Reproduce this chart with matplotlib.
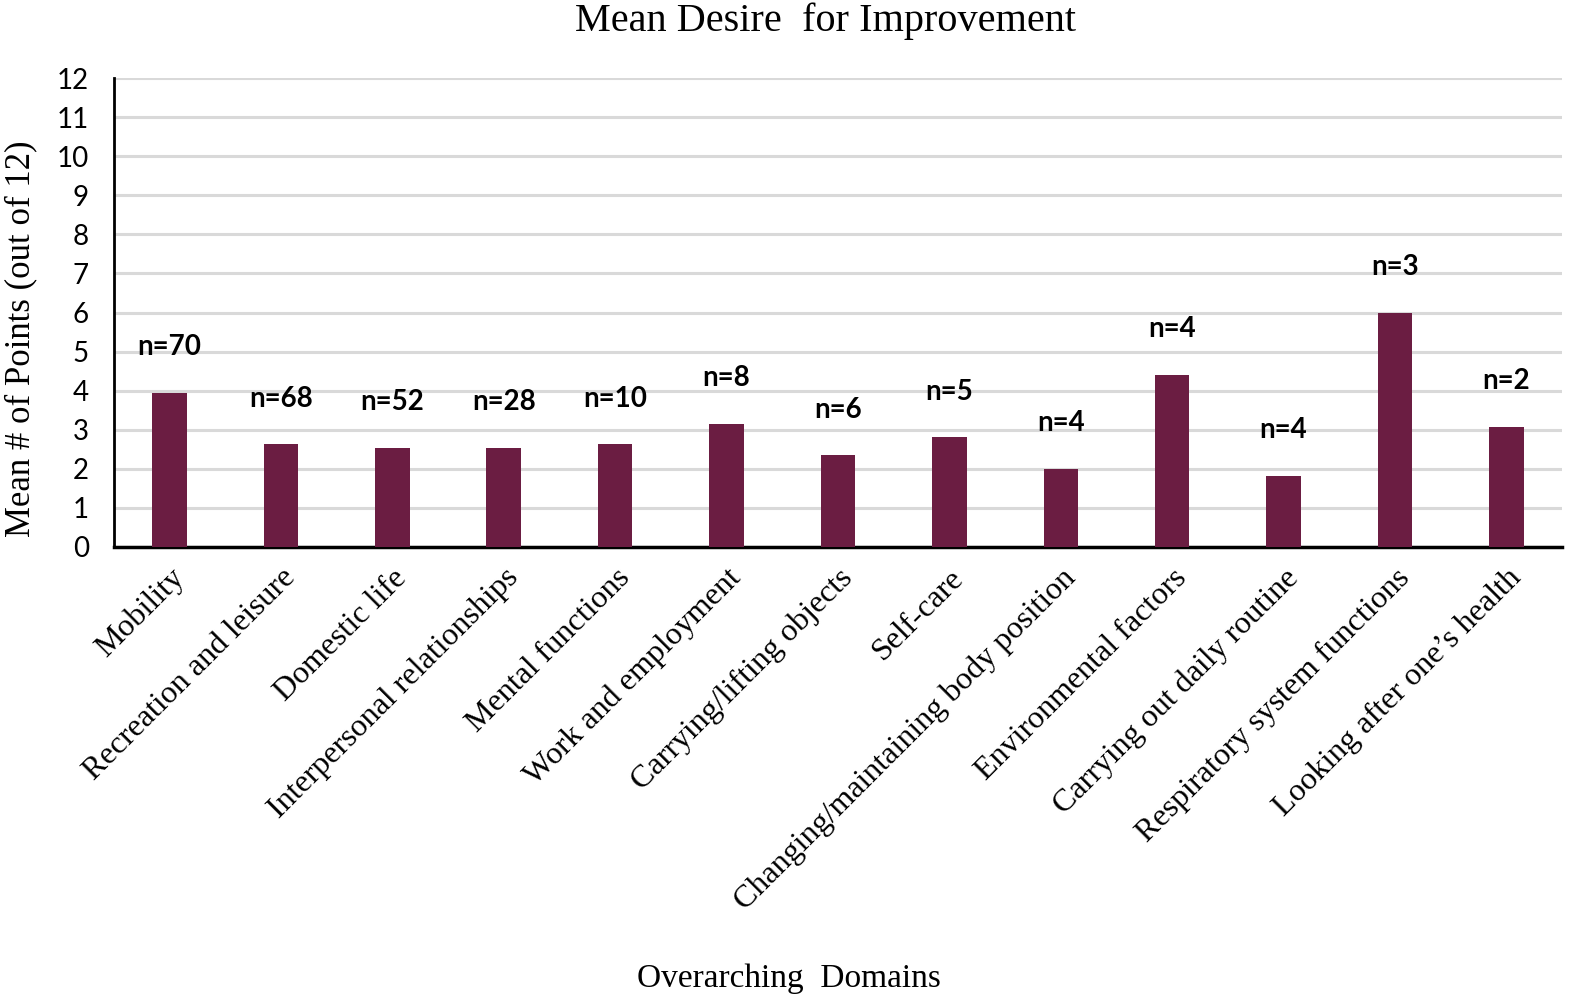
import numpy as np
import matplotlib.pyplot as plt

# ---------------- data ----------------
domains = ['Mobility', 'Recreation and leisure', 'Domestic life',
           'Interpersonal relationships', 'Mental functions',
           'Work and employment', 'Carrying/lifting objects', 'Self-care',
           'Changing/maintaining body position', 'Environmental factors',
           'Carrying out daily routine', 'Respiratory system functions',
           'Looking after one\u2019s health']
mean_pts = [3.95, 2.62, 2.53, 2.53, 2.62, 3.15, 2.34, 2.80, 2.0, 4.40, 1.82, 6.0, 3.07]
n_labels = ['n=70', 'n=68', 'n=52', 'n=28', 'n=10', 'n=8', 'n=6', 'n=5',
            'n=4', 'n=4', 'n=4', 'n=3', 'n=2']
yticks = list(range(0, 13))

serif = ['Liberation Serif', 'DejaVu Serif']
sans = ['Lato', 'DejaVu Sans']

fig = plt.figure(figsize=(15.94, 9.97), dpi=100)
ax = fig.add_axes([0.0714, 0.4516, 0.9086, 0.4699])

x = np.arange(len(domains))
ax.bar(x, mean_pts, width=0.31, color='#6B1D42', zorder=3)

# n= labels above bars
for xi, v, lab in zip(x, mean_pts, n_labels):
    ax.annotate(lab, (xi, v), xytext=(0, 33), textcoords='offset points',
                ha='center', va='center', fontsize=20, fontweight='bold',
                family=sans)

ax.set_xlim(-0.5, len(domains) - 0.5)
ax.set_ylim(0, 12)
ax.set_yticks(yticks)
ax.set_yticklabels([str(t) for t in yticks], family=sans, fontsize=20)
ax.yaxis.grid(True, color='#D9D9D9', linewidth=2.2, zorder=0)
ax.set_axisbelow(True)
ax.tick_params(axis='y', length=0, pad=18)
ax.tick_params(axis='x', length=0, pad=12)

ax.set_xticks(x)
ax.set_xticklabels(domains, rotation=45, ha='right', rotation_mode='anchor',
                   family=serif, fontsize=23)

for s in ['top', 'right']:
    ax.spines[s].set_visible(False)
ax.spines['left'].set_linewidth(2)
ax.spines['bottom'].set_linewidth(2.5)

ax.set_ylabel('Mean # of Points (out of 12)', family=serif, fontsize=25)
ax.yaxis.set_label_coords(-0.053, 0.443)

fig.text(0.518, 0.979, 'Mean Desire  for Improvement', ha='center', va='center',
         family=serif, fontsize=29)
fig.text(0.495, 0.018, 'Overarching  Domains', ha='center', va='center',
         family=serif, fontsize=24)

plt.savefig('out.png', dpi=100)
